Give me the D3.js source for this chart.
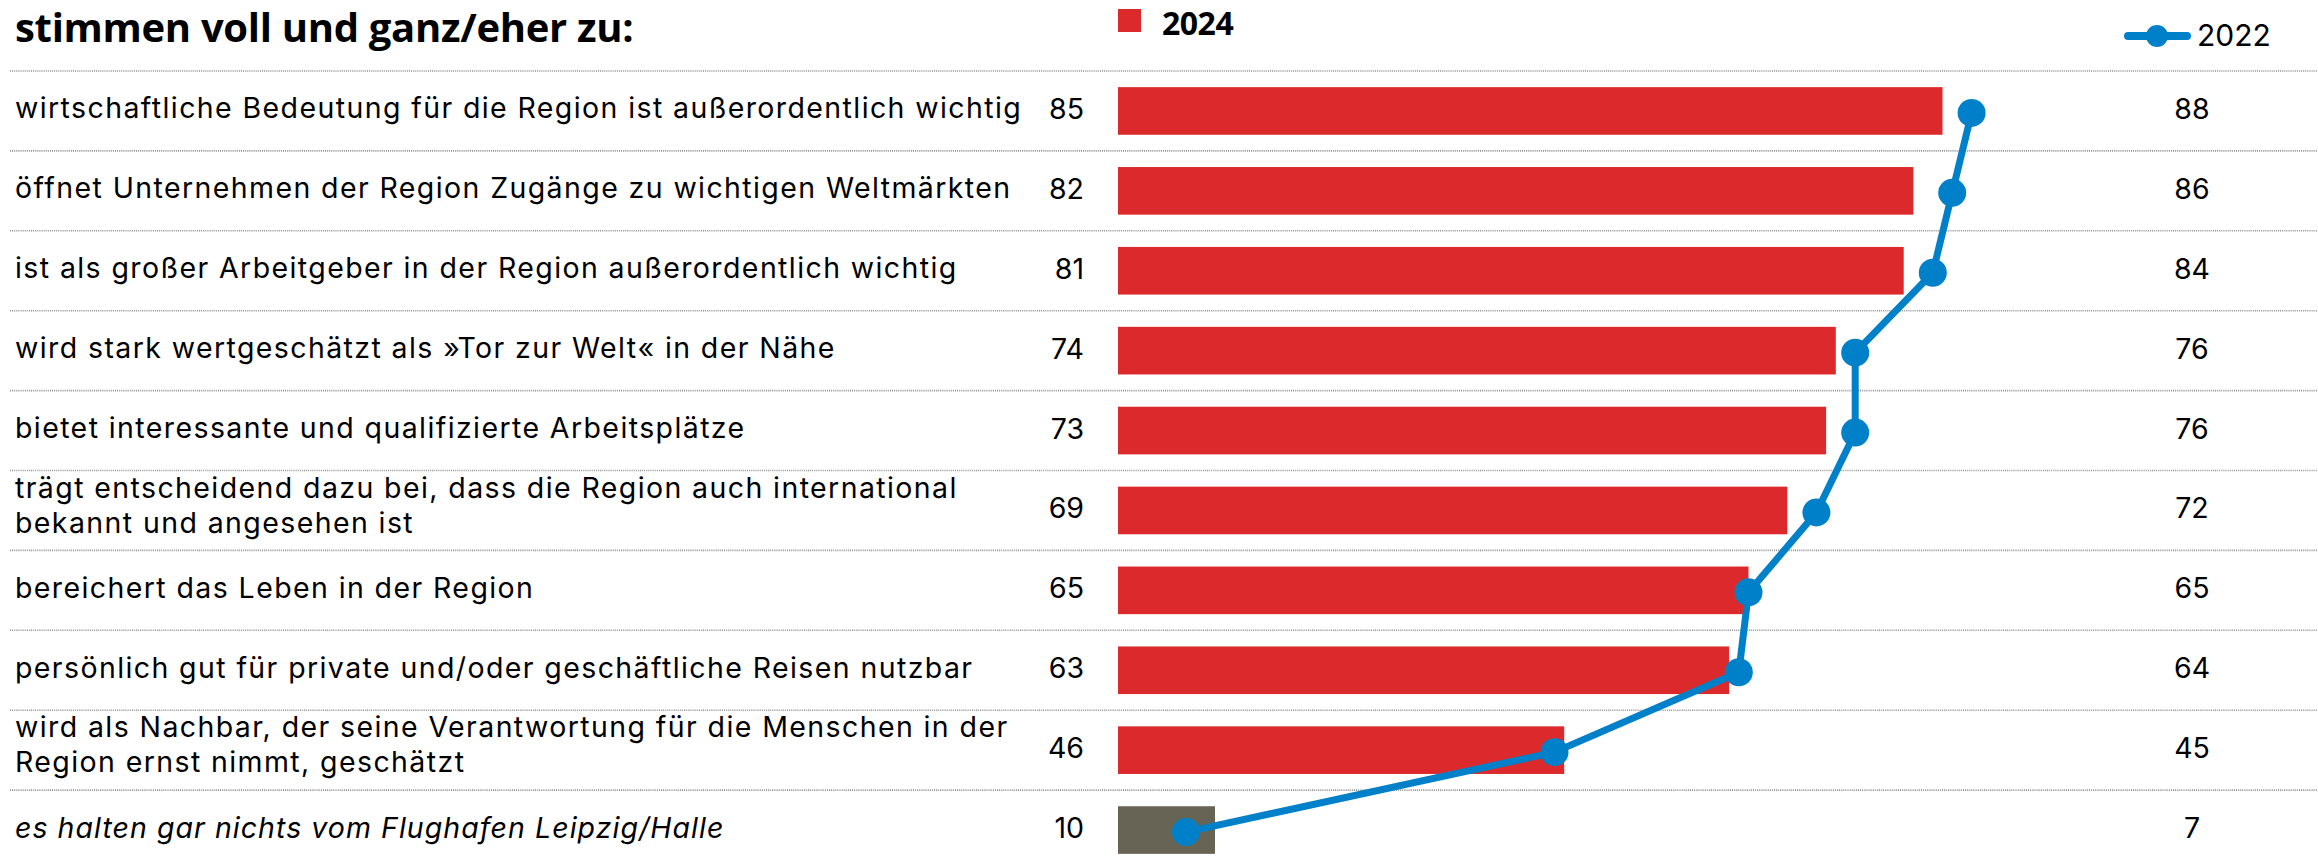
<!DOCTYPE html>
<html>
<head>
<meta charset="utf-8">
<script src="https://cdn.jsdelivr.net/npm/d3@7"></script>
<style>
  body { margin: 0; background: #fff; }
  svg { display: block; font-family: Inter, "Open Sans", sans-serif; }
</style>
</head>
<body>
<div id="chart"></div>
<script>
// chart data
var labels = [
    ["wirtschaftliche Bedeutung für die Region ist außerordentlich wichtig"],
    ["öffnet Unternehmen der Region Zugänge zu wichtigen Weltmärkten"],
    ["ist als großer Arbeitgeber in der Region außerordentlich wichtig"],
    ["wird stark wertgeschätzt als »Tor zur Welt« in der Nähe"],
    ["bietet interessante und qualifizierte Arbeitsplätze"],
    ["trägt entscheidend dazu bei, dass die Region auch international", "bekannt und angesehen ist"],
    ["bereichert das Leben in der Region"],
    ["persönlich gut für private und/oder geschäftliche Reisen nutzbar"],
    ["wird als Nachbar, der seine Verantwortung für die Menschen in der", "Region ernst nimmt, geschätzt"],
    ["es halten gar nichts vom Flughafen Leipzig/Halle"]
];
var values2024 = [85, 82, 81, 74, 73, 69, 65, 63, 46, 10];
var values2022 = [88, 86, 84, 76, 76, 72, 65, 64, 45, 7];
var negativeRow = 9; // last row is drawn grey + italic
var seriesNames = ["2024", "2022"];
var title = "stimmen voll und ganz/eher zu:";

var width = 2318, height = 864;
var red = "#dc292b", blue = "#0080c9", grey = "#676355";

var svg = d3.select("#chart").append("svg")
    .attr("width", width)
    .attr("height", height);

var rows = d3.range(labels.length);

// x: value -> pixels, y: row bands
var x = d3.scaleLinear().domain([0, 100]).range([1118, 2088]);
var y = d3.scaleBand().domain(rows).range([71, 71 + 79.9 * rows.length]);
var step = y.bandwidth();
var barH = step * 0.596;

// title
svg.append("text")
    .attr("x", 15)
    .attr("y", 42)
    .text(title)
    .style("font-family", "'Open Sans', sans-serif")
    .style("font-size", "40px")
    .style("font-weight", "bold")
    .style("letter-spacing", "-0.3px")
    .attr("fill", "#000");

// legend 2024
svg.append("rect")
    .attr("x", x(0))
    .attr("y", 9)
    .attr("width", 23)
    .attr("height", 23)
    .attr("fill", red);
svg.append("text")
    .attr("x", x(0) + 44)
    .attr("y", 35)
    .text(seriesNames[0])
    .style("font-family", "'Open Sans', sans-serif")
    .style("font-size", "32px")
    .style("font-weight", "bold")
    .style("letter-spacing", "-0.5px");

// legend 2022
svg.append("line")
    .attr("x1", 2128).attr("x2", 2187)
    .attr("y1", 36).attr("y2", 36)
    .attr("stroke", blue)
    .attr("stroke-width", 8)
    .attr("stroke-linecap", "round");
svg.append("circle")
    .attr("cx", 2157).attr("cy", 36).attr("r", 11)
    .attr("fill", blue);
svg.append("text")
    .attr("x", 2197)
    .attr("y", 46)
    .text(seriesNames[1])
    .style("font-size", "30px");

// dotted separators
svg.selectAll(".sep")
    .data(rows)
    .enter().append("line")
    .attr("class", "sep")
    .attr("x1", 10).attr("x2", width)
    .attr("y1", function(d){ return y(d); })
    .attr("y2", function(d){ return y(d); })
    .attr("stroke", "#8f8f8f")
    .attr("stroke-width", 1.6)
    .attr("stroke-dasharray", "1,1.1");

// row labels
var lab = svg.selectAll(".lab")
    .data(rows)
    .enter().append("text")
    .attr("class", "lab")
    .style("font-size", "28.5px")
    .style("letter-spacing", function(d){ return d === negativeRow ? "1.05px" : "1.4px"; })
    .style("font-style", function(d){ return d === negativeRow ? "italic" : "normal"; })
    .attr("fill", "#000");

lab.each(function(d){
    var lines = labels[d];
    var c = y(d) + step / 2;
    var t = d3.select(this);
    lines.forEach(function(s, i){
        var off = lines.length > 1 ? 4.7 + (i - 0.5) * 35 : 7.5;
        t.append("tspan")
            .attr("x", 15)
            .attr("y", c + off)
            .text(s);
    });
});

// 2024 value labels
svg.selectAll(".v24")
    .data(rows)
    .enter().append("text")
    .attr("class", "v24")
    .attr("x", 1084)
    .attr("y", function(d){ return y(d) + step / 2 + 8; })
    .attr("text-anchor", "end")
    .style("font-size", "28.5px")
    .text(function(d){ return values2024[d]; });

// 2022 value labels
svg.selectAll(".v22")
    .data(rows)
    .enter().append("text")
    .attr("class", "v22")
    .attr("x", 2192)
    .attr("y", function(d){ return y(d) + step / 2 + 8; })
    .attr("text-anchor", "middle")
    .style("font-size", "28.5px")
    .text(function(d){ return values2022[d]; });

// bars
svg.selectAll(".bar")
    .data(rows)
    .enter().append("rect")
    .attr("class", "bar")
    .attr("x", x(0))
    .attr("y", function(d){ return y(d) + (step - barH) / 2; })
    .attr("width", function(d){ return x(values2024[d]) - x(0); })
    .attr("height", barH)
    .attr("fill", function(d){ return d === negativeRow ? grey : red; });

// 2022 line + dots
var line = d3.line()
    .x(function(d){ return x(values2022[d]); })
    .y(function(d){ return y(d) + step / 2 + 2; });

svg.append("path")
    .datum(rows)
    .attr("d", line)
    .attr("fill", "none")
    .attr("stroke", blue)
    .attr("stroke-width", 7)
    .attr("stroke-linejoin", "round");

svg.selectAll(".dot")
    .data(rows)
    .enter().append("circle")
    .attr("class", "dot")
    .attr("cx", function(d){ return x(values2022[d]); })
    .attr("cy", function(d){ return y(d) + step / 2 + 2; })
    .attr("r", 14)
    .attr("fill", blue);
</script>
</body>
</html>
